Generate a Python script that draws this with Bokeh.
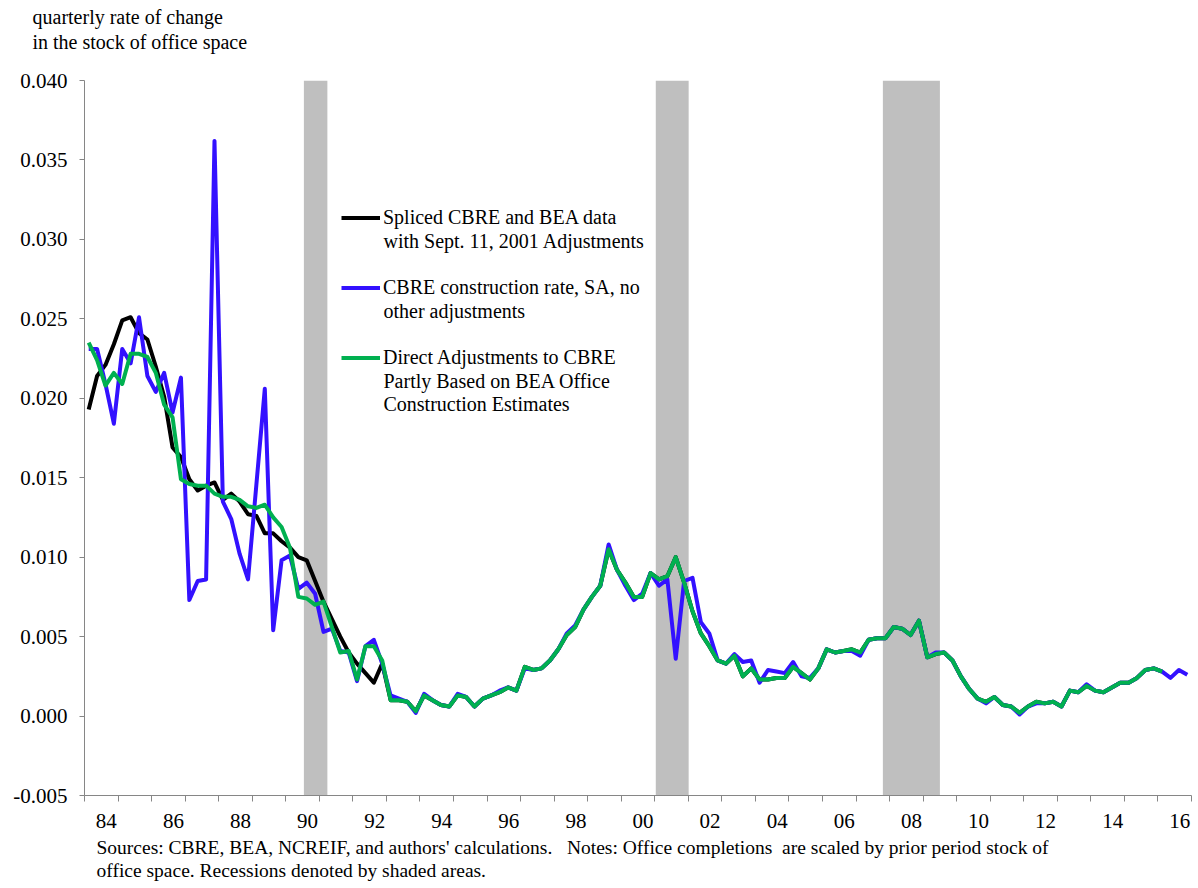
from bokeh.plotting import figure
from bokeh.models import (ColumnDataSource, FixedTicker, CustomJSTickFormatter,
                          NumeralTickFormatter, Range1d, Legend, LegendItem, Title, Label)
from bokeh.embed import file_html
from bokeh.resources import INLINE

FONT = "Liberation Serif"

# ---------------- data ----------------
# quarterly observations, 1984Q1 .. 2016Q4
quarters = [f"{1984 + k // 4}Q{k % 4 + 1}" for k in range(132)]

spliced = [
    0.0193, 0.0214, 0.0221, 0.0234, 0.0249, 0.0251, 0.0241, 0.0237, 0.0220, 0.0201,
    0.0169, 0.0163, 0.0149, 0.0142, 0.0145, 0.0147, 0.0136, 0.0140, 0.0135, 0.0127,
    0.0126, 0.0115, 0.0115, 0.0110, 0.0106, 0.0100, 0.0098, 0.0085, 0.0072, 0.0061,
    0.0050, 0.0040, 0.0033, 0.0027, 0.0021, 0.0033, 0.0010, 0.0010, 0.0009, 0.0003,
    0.0013, 0.0010, 0.0007, 0.0006, 0.0013, 0.0012, 0.0006, 0.0011, 0.0013, 0.0015,
    0.0018, 0.0016, 0.0031, 0.0029, 0.0030, 0.0035, 0.0042, 0.0051, 0.0056, 0.0067,
    0.0075, 0.0082, 0.0105, 0.0092, 0.0084, 0.0075, 0.0075, 0.0090, 0.0086, 0.0088,
    0.0100, 0.0084, 0.0066, 0.0052, 0.0044, 0.0035, 0.0033, 0.0038, 0.0025, 0.0030,
    0.0023, 0.0023, 0.0024, 0.0024, 0.0031, 0.0027, 0.0023, 0.0030, 0.0042, 0.0040,
    0.0041, 0.0042, 0.0040, 0.0048, 0.0049, 0.0049, 0.0056, 0.0055, 0.0051, 0.0060,
    0.0037, 0.0039, 0.0040, 0.0035, 0.0025, 0.0017, 0.0011, 0.0009, 0.0012, 0.0007,
    0.0006, 0.0002, 0.0006, 0.0009, 0.0008, 0.0009, 0.0006, 0.0016, 0.0015, 0.0019,
    0.0016, 0.0015, 0.0018, 0.0021, 0.0021, 0.0024, 0.0029, 0.0030, 0.0028,
]

cbre_sa = [
    0.0231, 0.0231, 0.0209, 0.0184, 0.0231, 0.0222, 0.0251, 0.0214, 0.0204, 0.0216,
    0.0191, 0.0213, 0.0073, 0.0085, 0.0086, 0.0362, 0.0135, 0.0124, 0.0102, 0.0086,
    0.0146, 0.0206, 0.0054, 0.0098, 0.0101, 0.0080, 0.0084, 0.0077, 0.0053, 0.0055,
    0.0041, 0.0040, 0.0022, 0.0044, 0.0048, 0.0033, 0.0013, 0.0011, 0.0009, 0.0002,
    0.0014, 0.0010, 0.0007, 0.0006, 0.0014, 0.0012, 0.0006, 0.0011, 0.0013, 0.0016,
    0.0018, 0.0016, 0.0030, 0.0029, 0.0030, 0.0035, 0.0042, 0.0052, 0.0057, 0.0067,
    0.0075, 0.0082, 0.0108, 0.0092, 0.0082, 0.0073, 0.0077, 0.0090, 0.0082, 0.0086,
    0.0036, 0.0085, 0.0087, 0.0059, 0.0052, 0.0035, 0.0033, 0.0039, 0.0034, 0.0035,
    0.0021, 0.0029, 0.0028, 0.0027, 0.0034, 0.0025, 0.0024, 0.0030, 0.0042, 0.0040,
    0.0041, 0.0041, 0.0038, 0.0048, 0.0049, 0.0049, 0.0056, 0.0055, 0.0051, 0.0060,
    0.0037, 0.0040, 0.0040, 0.0035, 0.0025, 0.0017, 0.0011, 0.0008, 0.0012, 0.0007,
    0.0006, 0.0001, 0.0006, 0.0008, 0.0008, 0.0009, 0.0006, 0.0016, 0.0015, 0.0020,
    0.0016, 0.0015, 0.0018, 0.0021, 0.0021, 0.0024, 0.0029, 0.0030, 0.0028, 0.0024,
    0.0029, 0.0026,
]

direct_adj = [
    0.0235, 0.0224, 0.0208, 0.0216, 0.0209, 0.0228, 0.0228, 0.0226, 0.0216, 0.0196,
    0.0188, 0.0149, 0.0146, 0.0145, 0.0145, 0.0140, 0.0138, 0.0138, 0.0136, 0.0132,
    0.0131, 0.0133, 0.0125, 0.0119, 0.0106, 0.0075, 0.0074, 0.0070, 0.0072, 0.0056,
    0.0040, 0.0041, 0.0023, 0.0044, 0.0044, 0.0035, 0.0010, 0.0010, 0.0009, 0.0003,
    0.0013, 0.0010, 0.0007, 0.0006, 0.0013, 0.0012, 0.0006, 0.0011, 0.0013, 0.0015,
    0.0018, 0.0016, 0.0031, 0.0029, 0.0030, 0.0035, 0.0042, 0.0051, 0.0056, 0.0067,
    0.0075, 0.0082, 0.0105, 0.0092, 0.0084, 0.0075, 0.0075, 0.0090, 0.0086, 0.0088,
    0.0100, 0.0084, 0.0066, 0.0052, 0.0044, 0.0035, 0.0033, 0.0038, 0.0025, 0.0030,
    0.0023, 0.0023, 0.0024, 0.0024, 0.0031, 0.0027, 0.0023, 0.0030, 0.0042, 0.0040,
    0.0041, 0.0042, 0.0040, 0.0048, 0.0049, 0.0049, 0.0056, 0.0055, 0.0051, 0.0060,
    0.0037, 0.0039, 0.0040, 0.0035, 0.0025, 0.0017, 0.0011, 0.0009, 0.0012, 0.0007,
    0.0006, 0.0002, 0.0006, 0.0009, 0.0008, 0.0009, 0.0006, 0.0016, 0.0015, 0.0019,
    0.0016, 0.0015, 0.0018, 0.0021, 0.0021, 0.0024, 0.0029, 0.0030, 0.0028,
]

# recessions (fractional years)
recession_start = [1990.54, 2001.03, 2007.80]
recession_end = [1991.24, 2002.01, 2009.50]

y_ticks = [-0.005, 0.000, 0.005, 0.010, 0.015, 0.020, 0.025, 0.030, 0.035, 0.040]
label_years = list(range(1984, 2017, 2))
year_bounds = list(range(1984, 2018))

series_labels = [
    ["Spliced CBRE and BEA data", "with Sept. 11, 2001 Adjustments"],
    ["CBRE construction rate, SA, no", "other adjustments"],
    ["Direct Adjustments to CBRE", "Partly Based on BEA Office", "Construction Estimates"],
]
title_text = "quarterly rate of change\nin the stock of office space\n\u00a0"
note_text = ("Sources: CBRE, BEA, NCREIF, and authors' calculations.\u00a0\u00a0 Notes: Office completions"
             "\u00a0 are scaled by prior period stock of\noffice space. Recessions denoted by shaded areas.")


def qx(q):
    y, n = q.split("Q")
    return int(y) + (int(n) - 1) / 4 + 0.125


# ---------------- figure ----------------
FRAME_TOP, FRAME_H = 80, 715
p = figure(frame_width=1107, frame_height=FRAME_H,
           min_border_left=84, min_border_right=7,
           min_border_top=FRAME_TOP, min_border_bottom=93,
           x_range=Range1d(1984, 2017), y_range=Range1d(-0.005, 0.040),
           output_backend="svg", toolbar_location=None)
p.xgrid.visible = False
p.ygrid.visible = False
p.outline_line_color = None
p.background_fill_color = "white"
p.border_fill_color = "white"

p.quad(left=recession_start, right=recession_end, bottom=y_ticks[0], top=y_ticks[-1],
       fill_color="#BFBFBF", line_color=None)

src_b = ColumnDataSource(dict(x=[qx(q) for q in quarters[:len(spliced)]], y=spliced))
src_u = ColumnDataSource(dict(x=[qx(q) for q in quarters[:len(cbre_sa)]], y=cbre_sa))
src_g = ColumnDataSource(dict(x=[qx(q) for q in quarters[:len(direct_adj)]], y=direct_adj))

r_b = p.line("x", "y", source=src_b, line_color="black", line_width=4, line_join="round")
r_u = p.line("x", "y", source=src_u, line_color="#3311FF", line_width=4, line_join="round")
r_g = p.line("x", "y", source=src_g, line_color="#00B050", line_width=4, line_join="round")

# axes
AX = "#868686"
p.yaxis.ticker = FixedTicker(ticks=y_ticks)
p.yaxis.formatter = NumeralTickFormatter(format="0.000")
p.yaxis.major_tick_out = 5
p.yaxis.major_tick_in = 0
p.yaxis.minor_tick_out = 0
p.yaxis.minor_tick_in = 0
p.yaxis.axis_line_color = AX
p.yaxis.major_tick_line_color = AX
p.yaxis.major_label_text_font = FONT
p.yaxis.major_label_text_font_size = "21px"
p.yaxis.major_label_text_color = "black"
p.yaxis.major_label_standoff = 12

p.xaxis.ticker = FixedTicker(ticks=[y + 0.65 for y in label_years], minor_ticks=year_bounds)
p.xaxis.formatter = CustomJSTickFormatter(
    code="const y = Math.floor(tick) % 100; return (y < 10 ? '0' : '') + y;")
p.xaxis.major_tick_out = 0
p.xaxis.major_tick_in = 0
p.xaxis.minor_tick_out = 6
p.xaxis.minor_tick_in = 0
p.xaxis.axis_line_color = AX
p.xaxis.minor_tick_line_color = AX
p.xaxis.major_label_text_font = FONT
p.xaxis.major_label_text_font_size = "21px"
p.xaxis.major_label_text_color = "black"
p.xaxis.major_label_standoff = 12

# legend: first line of each entry in the legend, continuation lines as labels
legend = Legend(items=[LegendItem(label=lines[0], renderers=[r])
                       for lines, r in zip(series_labels, [r_b, r_u, r_g])],
                location=(257, 426), label_text_font=FONT, label_text_font_size="20px",
                label_text_color="black",
                label_text_line_height=1.17, glyph_width=39, glyph_height=23,
                label_height=23, label_standoff=3, spacing=47, padding=0, margin=0,
                border_line_alpha=0, background_fill_alpha=0)
p.add_layout(legend, "center")

first_line_y = [216.7, 287.0, 356.7]   # page pixel rows of the legend entries
LINE_STEP = 23.3
for lines, y0 in zip(series_labels, first_line_y):
    for k, txt in enumerate(lines[1:], start=1):
        p.add_layout(Label(x=299, y=FRAME_TOP + FRAME_H - (y0 + k * LINE_STEP),
                           x_units="screen", y_units="screen", text=txt,
                           text_font=FONT, text_font_size="20px", text_baseline="middle",
                           text_align="left", text_color="black"))

# header and footer texts
p.add_layout(Title(text=title_text, align="left", offset=-52, standoff=4,
                   text_font=FONT, text_font_size="20px", text_font_style="normal",
                   text_line_height=1.15, text_color="black"), "above")
p.add_layout(Title(text=note_text, align="left", offset=12, standoff=12,
                   vertical_align="top",
                   text_font=FONT, text_font_size="19.5px", text_font_style="normal",
                   text_line_height=1.13, text_color="black"), "below")

open("out.html", "w").write(file_html(p, INLINE))
